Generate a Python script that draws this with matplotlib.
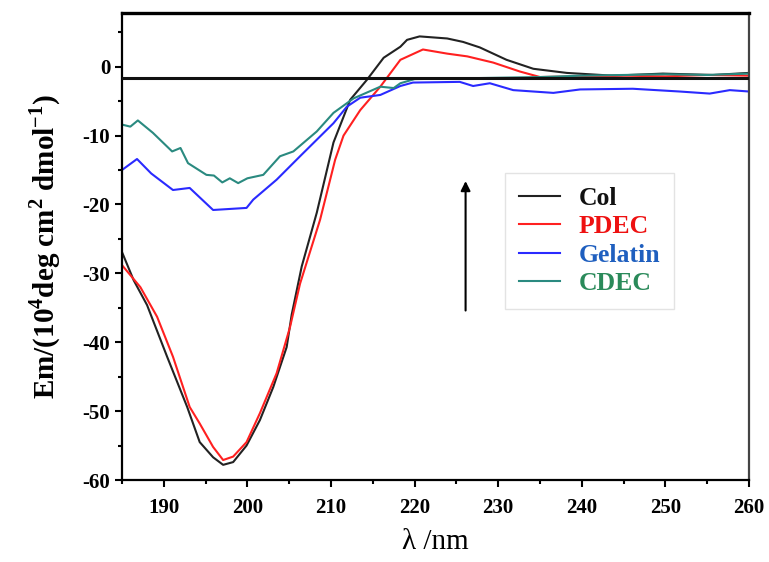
import matplotlib
matplotlib.use("Agg")
import matplotlib.pyplot as plt
from matplotlib.ticker import MultipleLocator

# wavelength (nm) / Em values
col_x = [185, 186.4, 188, 190.4, 192.8, 194.3, 195.9, 197.1, 198.3, 199.9, 201.5, 203.1,
         204.7, 205.3, 206.5, 208.3, 210.3, 212.3, 214.3, 216.3, 218.3, 219.1, 220.6,
         223.9, 225.8, 227.8, 231, 234.2, 238.2, 243.7, 249.7, 255.7, 260]
col_y = [-26.9, -31, -34.6, -42.1, -49.4, -54.5, -56.7, -57.8, -57.4, -55, -51.3, -46.5,
         -40.7, -36, -29, -21.2, -11, -4.8, -1.9, 1.3, 2.9, 3.9, 4.4,
         4.1, 3.6, 2.8, 1.0, -0.3, -0.9, -1.3, -1.0, -1.2, -0.9]

pdec_x = [185, 187.2, 189.2, 191.1, 193.1, 194.3, 195.9, 197.1, 198.3, 199.9, 201.5, 203.5,
          205.1, 206.3, 208.7, 210.5, 211.5, 213.5, 215.9, 218.3, 221, 223.9, 226.3, 229.4,
          232.6, 235, 240, 245, 250, 255, 260]
pdec_y = [-28.8, -32, -36.3, -42.1, -49.4, -51.8, -55.2, -57.1, -56.6, -54.5, -50.3, -44.5,
          -37.8, -31.5, -22.2, -13.5, -10, -6.3, -2.9, 1.0, 2.5, 1.9, 1.5, 0.6,
          -0.7, -1.5, -1.4, -1.3, -1.4, -1.2, -1.3]

gel_x = [185, 186.8, 188.5, 191.1, 193.1, 195.9, 199.9, 200.7, 203.5, 206.3, 210.3, 211.9,
         213.5, 215.9, 218.3, 219.8, 225.4, 227, 229, 231.8, 236.6, 239.8, 246.1, 251.7,
         255.3, 257.7, 260]
gel_y = [-15, -13.4, -15.5, -17.9, -17.6, -20.8, -20.5, -19.3, -16.4, -13, -8.2, -5.8,
         -4.5, -4.1, -2.8, -2.3, -2.2, -2.8, -2.4, -3.4, -3.8, -3.3, -3.2, -3.6,
         -3.9, -3.4, -3.6]

cdec_x = [185, 186, 186.9, 188.7, 191, 192, 192.9, 195.1, 196, 197, 197.9, 198.9, 200,
          201.9, 203.9, 205.5, 208.3, 210.3, 212.7, 215.9, 217.5, 218.3, 220, 225, 230,
          235, 240, 245, 250, 255, 260]
cdec_y = [-8.4, -8.7, -7.8, -9.6, -12.3, -11.8, -14, -15.7, -15.8, -16.8, -16.2, -16.9, -16.2,
          -15.7, -13, -12.3, -9.4, -6.7, -4.6, -2.9, -3.1, -2.4, -1.8, -1.7, -1.6,
          -1.5, -1.3, -1.2, -1.1, -1.2, -1.0]

labels = ["Col", "PDEC", "Gelatin", "CDEC"]
colors = ["#222222", "#ff2020", "#2a2aff", "#2a8a80"]
label_colors = ["#111111", "#ee1111", "#1f5fbf", "#2a8a5a"]

baseline = -1.7


def main():
    plt.rcParams['font.family'] = ['Liberation Serif', 'DejaVu Serif']
    plt.rcParams['axes.unicode_minus'] = False
    plt.rcParams['mathtext.fontset'] = 'custom'
    plt.rcParams['mathtext.rm'] = 'Liberation Serif:bold'
    plt.rcParams['mathtext.bf'] = 'Liberation Serif:bold'
    fig = plt.figure(figsize=(7.69, 5.62), dpi=100)
    ax = fig.add_axes([0.1586, 0.1459, 0.8154, 0.831])

    ax.plot(col_x, col_y, color=colors[0], lw=1.5, label=labels[0])
    ax.plot(pdec_x, pdec_y, color=colors[1], lw=1.5, label=labels[1])
    ax.plot(gel_x, gel_y, color=colors[2], lw=1.5, label=labels[2])
    ax.plot(cdec_x, cdec_y, color=colors[3], lw=1.5, label=labels[3])
    ax.axhline(baseline, color="#111111", lw=2.2, zorder=3)

    ax.annotate("", xy=(226.1, -16.2), xytext=(226.1, -35.8),
                arrowprops=dict(arrowstyle="-|>", color="black", lw=1.5,
                                mutation_scale=14))

    ax.set_xlim(185, 260)
    ax.set_ylim(-60, 7.8)
    ax.xaxis.set_minor_locator(MultipleLocator(5))
    ax.yaxis.set_major_locator(MultipleLocator(10))
    ax.yaxis.set_minor_locator(MultipleLocator(5))
    ax.set_xticks([190, 200, 210, 220, 230, 240, 250, 260])
    ax.tick_params(which='both', direction='out', width=1.5, top=False, right=False)
    ax.tick_params(which='major', length=5, labelsize=15)
    ax.tick_params(axis='x', which='major', pad=8)
    ax.tick_params(which='minor', length=3)
    for t in ax.get_xticklabels() + ax.get_yticklabels():
        t.set_fontweight('bold')

    for s in ['left', 'bottom']:
        ax.spines[s].set_linewidth(1.6)
    ax.spines['top'].set_linewidth(2.4)
    ax.spines['right'].set_linewidth(1.6)
    ax.spines['right'].set_color('#444444')

    ax.set_xlabel("λ /nm", fontsize=21, labelpad=8)
    ax.set_ylabel("Em/(10$^4$deg cm$^2$ dmol$^{-1}$)",
                  fontsize=21, fontweight='bold', labelpad=14)

    leg = ax.legend(loc='upper left', bbox_to_anchor=(0.611, 0.657), frameon=True,
                    fancybox=False, edgecolor='#dddddd', prop={'weight': 'bold', 'size': 18.5},
                    handlelength=1.6, labelspacing=0.2, borderpad=0.55, handletextpad=0.7,
                    borderaxespad=0)
    for text, c in zip(leg.get_texts(), label_colors):
        text.set_color(c)

    fig.savefig("out.png", dpi=100)


if __name__ == "__main__":
    main()
